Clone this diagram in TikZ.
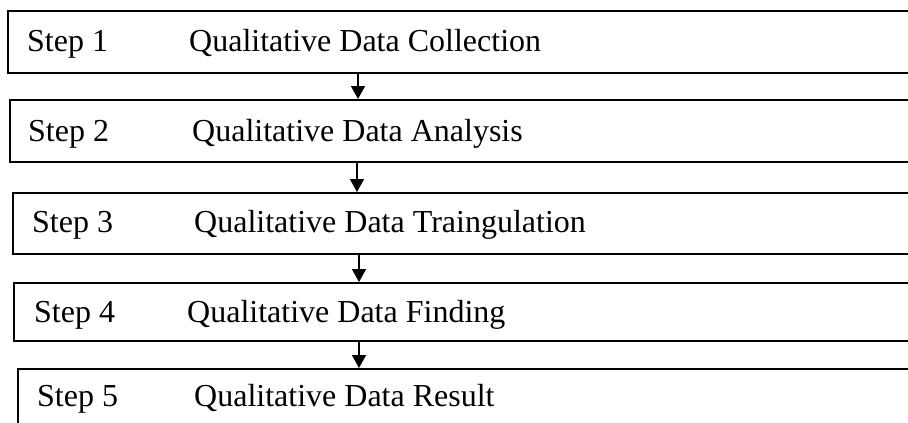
\documentclass[tikz,border=0pt]{standalone}
\usepackage{fontspec}
\setmainfont{Liberation Serif}
\usetikzlibrary{arrows.meta}
\begin{document}
\begin{tikzpicture}[x=1pt,y=-1pt,
  stepbox/.style={draw,line width=1.6pt,rectangle,anchor=north west,inner sep=0pt},
  lbl/.style={anchor=base west,inner sep=0pt,font=\fontsize{32}{36}\selectfont},
  arr/.style={line width=1.5pt,-{Triangle[width=14pt,length=13pt]}}]
\useasboundingbox (0,0) rectangle (908,423);
\clip (0,0) rectangle (908,423);
\node[stepbox,minimum width=930pt,minimum height=62pt] (b1) at (7,10) {};
\node[stepbox,minimum width=930pt,minimum height=62pt] (b2) at (9,99) {};
\node[stepbox,minimum width=930pt,minimum height=61pt] (b3) at (12,192) {};
\node[stepbox,minimum width=930pt,minimum height=58pt] (b4) at (13,282) {};
\node[stepbox,minimum width=930pt,minimum height=80pt] (b5) at (17,368) {};
\node[lbl] (s1) at (27,51) {Step 1};
\node[lbl] (q1) at (189,51) {Qualitative Data Collection};
\node[lbl] (s2) at (28,141) {Step 2};
\node[lbl] (q2) at (192,141) {Qualitative Data Analysis};
\node[lbl] (s3) at (32,232) {Step 3};
\node[lbl] (q3) at (194,232) {Qualitative Data Traingulation};
\node[lbl] (s4) at (34,322) {Step 4};
\node[lbl] (q4) at (187,322) {Qualitative Data Finding};
\node[lbl] (s5) at (37,406) {Step 5};
\node[lbl] (q5) at (194,406) {Qualitative Data Result};
\coordinate (a1) at (358,0);
\coordinate (a2) at (357,0);
\coordinate (a3) at (359,0);
\coordinate (a4) at (359,0);
\draw[arr] (b1.south -| a1) -- (b2.north -| a1);
\draw[arr] (b2.south -| a2) -- (b3.north -| a2);
\draw[arr] (b3.south -| a3) -- (b4.north -| a3);
\draw[arr] (b4.south -| a4) -- (b5.north -| a4);
\end{tikzpicture}
\end{document}
